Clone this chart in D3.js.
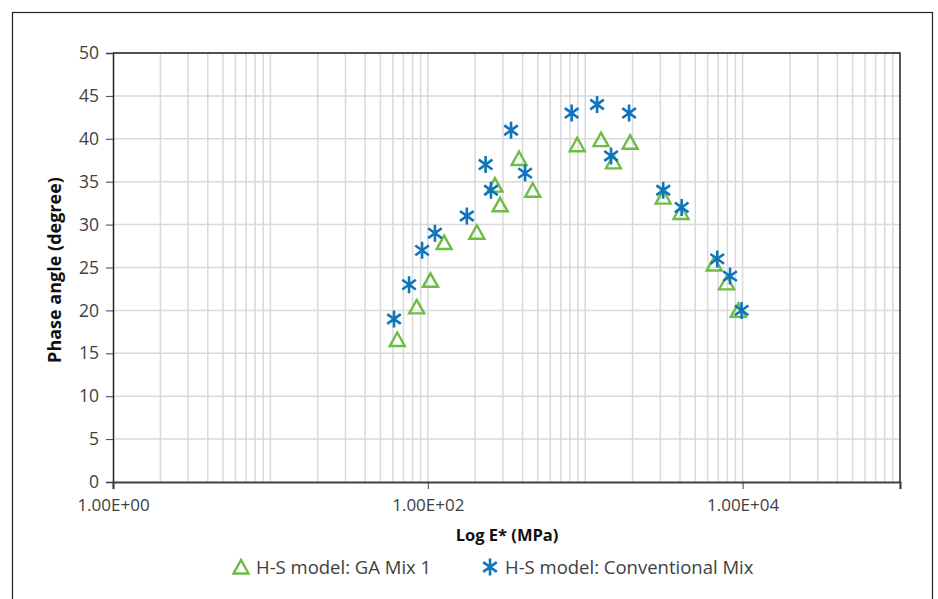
<!DOCTYPE html>
<html lang="en">
<head>
<meta charset="utf-8">
<title>Phase angle vs Log E*</title>
<script src="https://d3js.org/d3.v7.min.js"></script>
<style>
  body{margin:0;background:#fff;font-family:"Open Sans",sans-serif;}
  text{font-family:"Open Sans",sans-serif;}
</style>
</head>
<body>
<div id="chart"></div>
<script>
// H-S model: GA Mix 1 (triangles)
var gaE     = [64, 85, 104, 127, 205, 267, 288, 380, 464, 890, 1260, 1510, 1930, 3130, 4060, 6600, 7920, 9390]
var gaPhase = [16.6, 20.4, 23.5, 27.9, 29.1, 34.6, 32.3, 37.7, 34.0, 39.3, 39.9, 37.3, 39.6, 33.2, 31.4, 25.4, 23.2, 20.0]
// H-S model: Conventional Mix (asterisks)
var convE     = [61, 76, 92, 111, 177, 233, 252, 338, 415, 820, 1190, 1460, 1900, 3130, 4100, 6900, 8320, 9860]
var convPhase = [19.0, 23.0, 27.0, 29.0, 31.0, 37.0, 34.0, 41.0, 36.0, 43.0, 44.0, 38.0, 43.0, 34.0, 32.0, 26.0, 24.0, 20.0]

var xTicks = [1, 100, 10000]
var yTicks = [0, 5, 10, 15, 20, 25, 30, 35, 40, 45, 50]
var seriesNames = ["H-S model: GA Mix 1", "H-S model: Conventional Mix"]

var w = 938, h = 599
var green = "#6dbd45", blue = "#0f75bc"
var font = "'Open Sans', sans-serif"

var svg = d3.select("#chart").append("svg")
    .attr("width", w).attr("height", h)

// outer frame
svg.append("rect")
    .attr("x", 12.5).attr("y", 12.5)
    .attr("width", 920).attr("height", 600)
    .attr("fill", "none").attr("stroke", "#222").attr("stroke-width", 1.2)

var xScale = d3.scaleLog().domain([1, 100000]).range([113, 900])
var yScale = d3.scaleLinear().domain([0, 50]).range([482, 53])

// minor grid values: 1..9 times each decade
var gridX = []
for (var p = 0; p < 5; p++) {
  for (var m = 1; m < 10; m++) {
    var v = m * Math.pow(10, p)
    if (v > 1) gridX.push(v)
  }
}

svg.append("g").selectAll("line")
    .data(gridX).enter().append("line")
    .attr("x1", function(d){ return xScale(d) })
    .attr("x2", function(d){ return xScale(d) })
    .attr("y1", yScale(0)).attr("y2", yScale(50))
    .attr("stroke", "#d9d9d9").attr("stroke-width", 1.5)

svg.append("g").selectAll("line")
    .data(yTicks.slice(1)).enter().append("line")
    .attr("x1", xScale(1)).attr("x2", xScale(100000))
    .attr("y1", function(d){ return yScale(d) })
    .attr("y2", function(d){ return yScale(d) })
    .attr("stroke", "#d9d9d9").attr("stroke-width", 1.5)

// plot border (top, right)
svg.append("path")
    .attr("d", "M" + xScale(1) + "," + yScale(50) + "H" + xScale(100000) + "V" + yScale(0))
    .attr("fill", "none").attr("stroke", "#222").attr("stroke-width", 1.5)

// axes
var yAxis = d3.axisLeft(yScale).tickValues(yTicks).tickSize(7).tickPadding(7)
var gy = svg.append("g").attr("transform", "translate(" + xScale(1) + ",0)").call(yAxis)
gy.attr("font-family", font)
gy.selectAll("text").style("font-size", "17.5px").attr("fill", "#404040")
gy.select(".domain").attr("stroke", "#222").attr("stroke-width", 1.5)
gy.selectAll(".tick line").attr("stroke", "#404040")

var xAxis = d3.axisBottom(xScale).tickValues(xTicks).tickSize(7).tickPadding(10)
    .tickFormat(function(d){
      var e = Math.round(Math.log10(d))
      return "1.00E+" + (e < 10 ? "0" : "") + e
    })
var gx = svg.append("g").attr("transform", "translate(0," + yScale(0) + ")").call(xAxis)
gx.attr("font-family", font)
gx.selectAll("text").style("font-size", "17px").attr("fill", "#404040")
gx.select(".domain").attr("stroke", "#404040").attr("stroke-width", 2.2)
gx.selectAll(".tick line").attr("stroke", "#404040")

// axis titles
svg.append("text")
    .attr("x", 507).attr("y", 541)
    .attr("text-anchor", "middle")
    .style("font-size", "16.5px").style("font-weight", "bold").attr("fill", "#111")
    .text("Log E* (MPa)")

svg.append("text")
    .attr("transform", "translate(61,270) rotate(-90)")
    .attr("text-anchor", "middle")
    .style("font-size", "18px").style("font-weight", "bold").attr("fill", "#111")
    .text("Phase angle (degree)")

// marker shapes
function triPath(s){
  return "M0," + (-s*0.47) + "L" + (s*0.5) + "," + (s*0.43) + "L" + (-s*0.5) + "," + (s*0.43) + "Z"
}
function starPath(s){
  var r = s/2, d = r*0.8
  return "M0," + (-r) + "V" + r +
         "M" + (-d) + "," + (-d*0.72) + "L" + d + "," + (d*0.72) +
         "M" + (-d) + "," + (d*0.72) + "L" + d + "," + (-d*0.72)
}

var gaData = gaE.map(function(e, i){ return {e: e, p: gaPhase[i]} })
var convData = convE.map(function(e, i){ return {e: e, p: convPhase[i]} })

svg.append("g").selectAll("path")
    .data(gaData).enter().append("path")
    .attr("transform", function(d){ return "translate(" + xScale(d.e) + "," + yScale(d.p) + ")" })
    .attr("d", triPath(15))
    .attr("fill", "none").attr("stroke", green).attr("stroke-width", 2.4)

svg.append("g").selectAll("path")
    .data(convData).enter().append("path")
    .attr("transform", function(d){ return "translate(" + xScale(d.e) + "," + yScale(d.p) + ")" })
    .attr("d", starPath(17))
    .attr("fill", "none").attr("stroke", blue).attr("stroke-width", 2.6)

// legend
var legend = svg.append("g")
var lg1 = legend.append("g").attr("transform", "translate(241,567)")
lg1.append("path").attr("d", triPath(15))
    .attr("fill", "none").attr("stroke", green).attr("stroke-width", 2.4)
lg1.append("text").attr("x", 15).attr("y", 6.5)
    .style("font-size", "18.5px").attr("fill", "#404040").text(seriesNames[0])

var lg2 = legend.append("g").attr("transform", "translate(490,567)")
lg2.append("path").attr("d", starPath(17))
    .attr("fill", "none").attr("stroke", blue).attr("stroke-width", 2.6)
lg2.append("text").attr("x", 15).attr("y", 6.5)
    .style("font-size", "18.5px").attr("fill", "#404040").text(seriesNames[1])
</script>
</body>
</html>
